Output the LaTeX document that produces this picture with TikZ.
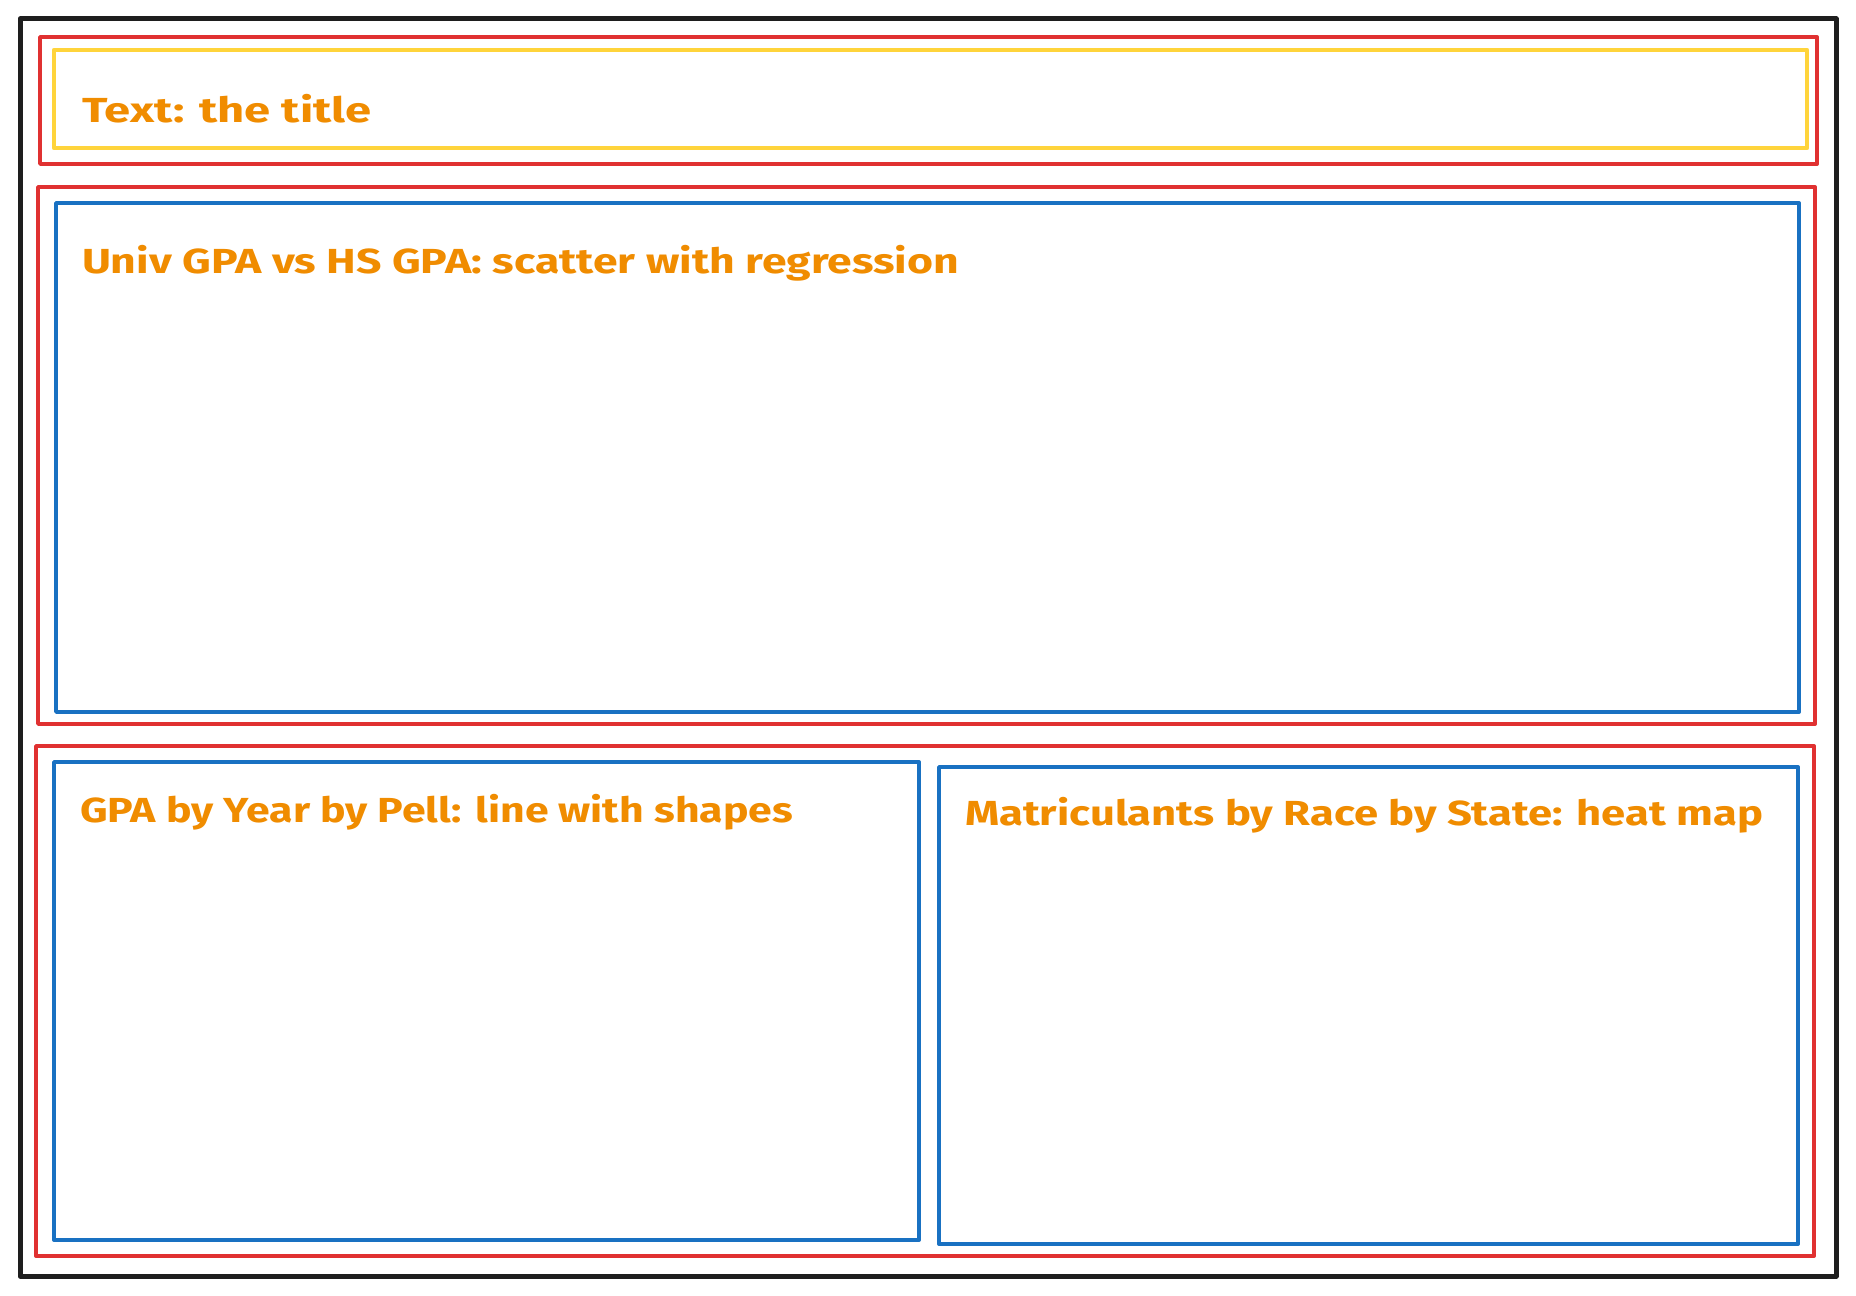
\documentclass[tikz,border=0pt]{standalone}
\usepackage{fontspec}
\setmainfont{Fira Sans}
\usepackage{graphicx}
\definecolor{exblack}{HTML}{1E1E1E}
\definecolor{exred}{HTML}{E03131}
\definecolor{exyellow}{HTML}{FFD43B}
\definecolor{exblue}{HTML}{1971C2}
\definecolor{exorange}{HTML}{F08C00}
\tikzset{
  outerframe/.style={draw=exblack, line width=2.5pt, line join=round},
  rowframe/.style={draw=exred, line width=1.9pt, line join=round},
  titleframe/.style={draw=exyellow, line width=2.1pt, line join=round},
  chartframe/.style={draw=exblue, line width=1.9pt, line join=round},
  label/.style={anchor=base west, inner sep=0pt, outer sep=0pt, text=exorange,
    font=\fontsize{17.4}{20}\selectfont\bfseries},
}
\newcommand{\fitlabel}[2]{\resizebox{#1}{\height}{#2}}
\begin{document}
\begin{tikzpicture}[x=0.5pt, y=-0.5pt]
  \useasboundingbox[fill=white] (0,0) rectangle (1856,1295);
  % outer black frame
  \draw[outerframe] (20,19) coordinate (page-nw) rectangle (1836,1276) coordinate (page-se);
  % title row
  \draw[rowframe] (40,37) coordinate (row1-nw) rectangle (1817,164) coordinate (row1-se);
  \draw[titleframe] (54,50) coordinate (title-nw) rectangle (1807,148) coordinate (title-se);
  \node[label] (titletext) at (82,122) {\fitlabel{144.5pt}{Text: the title}};
  % second row
  \draw[rowframe] (38,187) coordinate (row2-nw) rectangle (1815,724) coordinate (row2-se);
  \draw[chartframe] (56,203) coordinate (scatter-nw) rectangle (1799,712) coordinate (scatter-se);
  \node[label] (scattertext) at (82,273) {\fitlabel{438.5pt}{Univ GPA vs HS GPA: scatter with regression}};
  % third row
  \draw[rowframe] (36,746) coordinate (row3-nw) rectangle (1814,1256) coordinate (row3-se);
  \draw[chartframe] (54,762) coordinate (line-nw) rectangle (919,1240) coordinate (line-se);
  \node[label] (linetext) at (80,822) {\fitlabel{356.5pt}{GPA by Year by Pell: line with shapes}};
  \draw[chartframe] (939,767) coordinate (heat-nw) rectangle (1798,1244) coordinate (heat-se);
  \node[label] (heattext) at (965,825) {\fitlabel{399pt}{Matriculants by Race by State: heat map}};
\end{tikzpicture}
\end{document}
